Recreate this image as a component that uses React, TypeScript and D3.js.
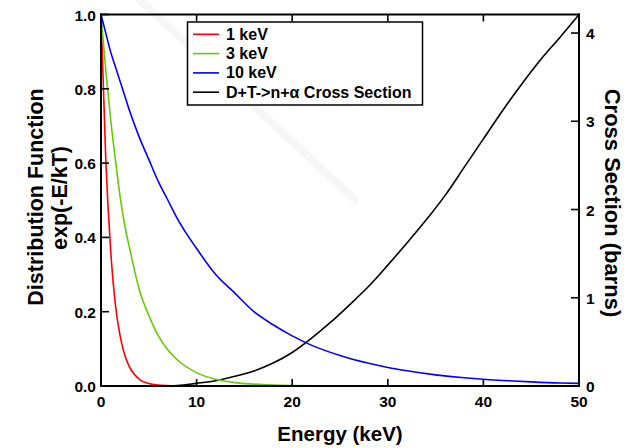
import React from 'react';
import * as d3 from 'd3';

// Energy grid (keV) for the Boltzmann-type distributions
const energies = [0, 0.5, 1, 1.5, 2, 2.5, 3, 4, 5, 6, 7, 8, 10, 12, 14, 16, 18, 20, 22, 25, 28, 30, 32, 35, 38, 40, 42, 45, 48, 50];
const dist1keV = [1, 0.61, 0.37, 0.22, 0.135, 0.082, 0.05, 0.018, 0.007, 0.0025, 0.001, 0, 0, 0, 0, 0, 0, 0, 0, 0, 0, 0, 0, 0, 0, 0, 0, 0, 0, 0];
const dist3keV = [1, 0.85, 0.72, 0.61, 0.51, 0.43, 0.37, 0.26, 0.19, 0.135, 0.097, 0.07, 0.036, 0.018, 0.009, 0.005, 0.0025, 0.0013, 0.0007, 0.0002, 0, 0, 0, 0, 0, 0, 0, 0, 0, 0];
const dist10keV = [1, 0.95, 0.9, 0.86, 0.82, 0.78, 0.74, 0.67, 0.61, 0.55, 0.5, 0.45, 0.37, 0.3, 0.25, 0.2, 0.165, 0.135, 0.11, 0.082, 0.061, 0.05, 0.041, 0.03, 0.022, 0.018, 0.015, 0.011, 0.008, 0.007];

// D+T -> n+alpha cross section (barns)
const xsEnergies = [6, 8, 10, 12, 14, 16, 18, 20, 22, 24, 26, 28, 30, 32, 34, 36, 38, 40, 42, 44, 46, 48, 50];
const xsBarns = [0, 0.005, 0.03, 0.06, 0.11, 0.17, 0.26, 0.38, 0.54, 0.72, 0.92, 1.13, 1.37, 1.62, 1.88, 2.16, 2.48, 2.8, 3.12, 3.42, 3.7, 3.95, 4.21];

const xTicks = [0, 10, 20, 30, 40, 50];
const yTicks = [0, 0.2, 0.4, 0.6, 0.8, 1.0];
const y2Ticks = [0, 1, 2, 3, 4];

const legendLabels = ['1 keV', '3 keV', '10 keV', 'D+T->n+\u03b1 Cross Section'];
const colors = ['#ff0000', '#66cc00', '#0000ff', '#000000'];

const width = 631;
const height = 448;
const margin = { top: 14.5, right: 52, bottom: 62, left: 101 };
const font = '"Liberation Sans", Arial, sans-serif';

export default function App() {
  const x = d3.scaleLinear().domain([0, 50]).range([margin.left, width - margin.right]);
  const y = d3.scaleLinear().domain([0, 1]).range([height - margin.bottom, margin.top]);
  const y2 = d3.scaleLinear().domain([0, 4.21]).range([height - margin.bottom, margin.top]);

  const distLine = d3.line<number>().x((_, i) => x(energies[i])).y(d => y(d)).curve(d3.curveMonotoneX);
  const xsLine = d3.line<number>().x((_, i) => x(xsEnergies[i])).y(d => y2(d)).curve(d3.curveMonotoneX);

  const series = [dist1keV, dist3keV, dist10keV];
  const x0 = margin.left;
  const x1 = width - margin.right;
  const yb = height - margin.bottom;
  const yt = margin.top;
  const lw = 2; // frame thickness
  const tw = 1.6; // tick thickness
  const tl = 7; // tick length

  // frame and ticks drawn as filled bars
  const bars: { x: number; y: number; w: number; h: number }[] = [
    { x: x0 - lw / 2, y: yt - lw / 2, w: x1 - x0 + lw, h: lw },
    { x: x0 - lw / 2, y: yb - lw / 2, w: x1 - x0 + lw, h: lw },
    { x: x0 - lw / 2, y: yt - lw / 2, w: lw, h: yb - yt + lw },
    { x: x1 - lw / 2, y: yt - lw / 2, w: lw, h: yb - yt + lw },
  ];
  xTicks.forEach(t => {
    bars.push({ x: x(t) - tw / 2, y: yb - tl, w: tw, h: tl });
    bars.push({ x: x(t) - tw / 2, y: yt, w: tw, h: tl });
  });
  yTicks.forEach(t => bars.push({ x: x0, y: y(t) - tw / 2, w: tl + 1, h: tw }));
  y2Ticks.forEach(t => bars.push({ x: x1 - tl - 1, y: y2(t) - tw / 2, w: tl + 1, h: tw }));

  const lg = { x: 187.5, y: 22, w: 235, h: 83, b: 1.5 };

  return (
    <svg width={width} height={height} style={{ position: 'absolute', left: 0, top: 0, background: '#ffffff' }}>
      {/* faint watermark streak */}
      <path d="M140,0L355,200" fill="none" stroke="#f6f6f8" strokeWidth={8} strokeLinecap="round" />

      {/* curves */}
      <path d={xsLine(xsBarns) || ''} fill="none" stroke={colors[3]} strokeWidth={1.6} />
      {series.map((s, i) => (
        <path key={i} d={distLine(s) || ''} fill="none" stroke={colors[i]} strokeWidth={1.6} />
      ))}

      {/* frame + ticks */}
      {bars.map((b, i) => (
        <rect key={'b' + i} x={b.x} y={b.y} width={b.w} height={b.h} fill="#000000" />
      ))}

      {/* tick labels */}
      {xTicks.map(t => (
        <text key={'x' + t} x={x(t)} y={yb + 21} textAnchor="middle" fontFamily={font} fontWeight="bold" fontSize={15.5}>{t}</text>
      ))}
      {yTicks.map(t => (
        <text key={'y' + t} x={x0 - 5} y={y(t) + 6} textAnchor="end" fontFamily={font} fontWeight="bold" fontSize={15.5}>{t.toFixed(1)}</text>
      ))}
      {y2Ticks.map(t => (
        <text key={'y2' + t} x={x1 + 7} y={y2(t) + 6} textAnchor="start" fontFamily={font} fontWeight="bold" fontSize={15.5}>{t}</text>
      ))}

      {/* axis titles */}
      <text x={(x0 + x1) / 2} y={441} textAnchor="middle" fontFamily={font} fontWeight="bold" fontSize={20.5}>Energy (keV)</text>
      <text transform="translate(43,197) rotate(-90)" textAnchor="middle" fontFamily={font} fontWeight="bold" fontSize={21.5}>Distribution Function</text>
      <text transform="translate(67,198) rotate(-90)" textAnchor="middle" fontFamily={font} fontWeight="bold" fontSize={21.5}>exp(-E/kT)</text>
      <text transform="translate(605,203) rotate(90)" textAnchor="middle" fontFamily={font} fontWeight="bold" fontSize={22}>Cross Section (barns)</text>

      {/* legend */}
      <rect x={lg.x - lg.b / 2} y={lg.y - lg.b / 2} width={lg.w + lg.b} height={lg.h + lg.b} fill="#000000" />
      <rect x={lg.x + lg.b / 2} y={lg.y + lg.b / 2} width={lg.w - lg.b} height={lg.h - lg.b} fill="#ffffff" />
      {legendLabels.map((l, i) => (
        <g key={l} transform={`translate(0,${34.3 + i * 19.3})`}>
          <rect x={193} y={-0.8} width={26} height={1.6} fill={colors[i]} />
          <text x={226} y={5.5} fontFamily={font} fontWeight="bold" fontSize={16}>{l}</text>
        </g>
      ))}
    </svg>
  );
}
